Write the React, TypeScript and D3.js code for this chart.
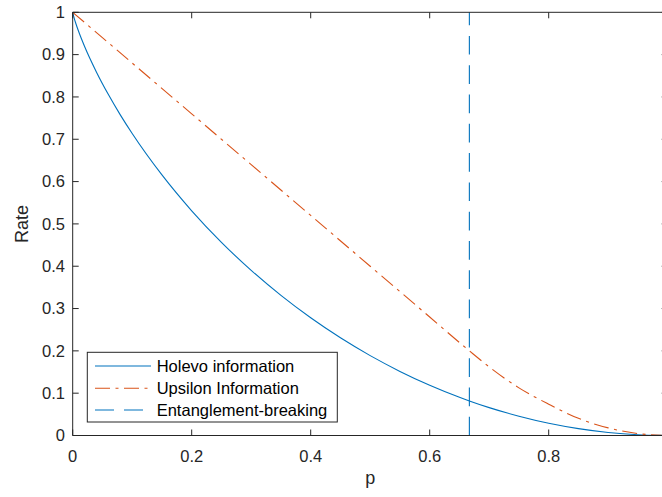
import React from "react";
import * as d3 from "d3";

const holevoP = [0, 0.0025, 0.005, 0.01, 0.02, 0.04, 0.06, 0.08, 0.1, 0.15, 0.2, 0.25, 0.3, 0.35, 0.4, 0.45, 0.5, 0.55, 0.6, 0.65, 0.6667, 0.7, 0.75, 0.8, 0.85, 0.9, 0.95, 1.0];
const holevoV = [1, 0.986, 0.9748, 0.9546, 0.9192, 0.8586, 0.8056, 0.7577, 0.7136, 0.6157, 0.531, 0.4564, 0.3902, 0.331, 0.2781, 0.2308, 0.1887, 0.1515, 0.1187, 0.0903, 0.0817, 0.0659, 0.0456, 0.029, 0.0163, 0.0072, 0.0018, 0];

const upsilonP = [0, 0.1, 0.2, 0.3, 0.4, 0.5, 0.6, 0.6667, 0.7, 0.75, 0.8, 0.85, 0.9, 0.95, 0.99];
const upsilonV = [1, 0.88, 0.76, 0.64, 0.52, 0.4, 0.28, 0.2, 0.162, 0.1125, 0.074, 0.0405, 0.018, 0.0045, 0.0002];

const breakingP = 2 / 3;

const xTicks = [0, 0.2, 0.4, 0.6, 0.8];
const yTicks = [0, 0.1, 0.2, 0.3, 0.4, 0.5, 0.6, 0.7, 0.8, 0.9, 1];
const legendLabels = ["Holevo information", "Upsilon Information", "Entanglement-breaking"];

const W = 662;
const H = 497;
const BLUE = "#0072BD";
const ORANGE = "#D95319";
const AX = "#262626";
const FONT = "'Liberation Sans', Arial, Helvetica, sans-serif";

export default function App() {
  const x = d3.scaleLinear().domain([0, 1]).range([72.7, 667.7]);
  const y = d3.scaleLinear().domain([0, 1]).range([435.5, 12.3]);
  const [x0, x1] = x.range();
  const [y0, y1] = y.range();

  const line = d3
    .line<[number, number]>()
    .x((d) => x(d[0]))
    .y((d) => y(d[1]))
    .curve(d3.curveMonotoneX);

  const holevo = line(holevoP.map((p, i) => [p, holevoV[i]] as [number, number]));
  const upsilon = line(upsilonP.map((p, i) => [p, upsilonV[i]] as [number, number]));

  const tickLen = 6;
  const legX = 87.3;
  const legY = 352.3;
  const legW = 250;
  const legH = 69.7;
  const rows = [366, 388.3, 410];
  const styles = [
    { stroke: BLUE, dash: undefined as string | undefined },
    { stroke: ORANGE, dash: "15 5.5 3 5.5" },
    { stroke: BLUE, dash: "19 10" },
  ];

  return (
    <svg
      width={W}
      height={H}
      style={{ position: "absolute", left: 0, top: 0, background: "#fff", overflow: "hidden" }}
      fontFamily={FONT}
    >
      <rect x={0} y={0} width={W} height={H} fill="#fff" />
      {/* curves */}
      <path d={holevo ?? ""} fill="none" stroke={BLUE} strokeWidth={1.1} />
      <path d={upsilon ?? ""} fill="none" stroke={ORANGE} strokeWidth={1.1} strokeDasharray="15 5.5 3 5.5" />
      <line
        x1={x(breakingP)}
        x2={x(breakingP)}
        y1={y(0)}
        y2={y(1)}
        stroke={BLUE}
        strokeWidth={1.1}
        strokeDasharray="18.7 10.6"
      />
      {/* axes box */}
      <line x1={x0} x2={x0} y1={y0} y2={y1} stroke={AX} strokeWidth={1} />
      <line x1={x0} x2={x1} y1={y0} y2={y0} stroke={AX} strokeWidth={1} />
      <line x1={x0} x2={x1} y1={y1} y2={y1} stroke={AX} strokeWidth={1} />
      <line x1={x1} x2={x1} y1={y0} y2={y1} stroke={AX} strokeWidth={1} />
      {/* x ticks */}
      {xTicks.map((t) => (
        <g key={"xt" + t}>
          <line x1={x(t)} x2={x(t)} y1={y0} y2={y0 - tickLen} stroke={AX} strokeWidth={1} />
          <line x1={x(t)} x2={x(t)} y1={y1} y2={y1 + tickLen} stroke={AX} strokeWidth={1} />
          <text x={x(t)} y={461.5} textAnchor="middle" fontSize={16.5} fill={AX}>
            {String(t)}
          </text>
        </g>
      ))}
      {/* y ticks */}
      {yTicks.map((t) => (
        <g key={"yt" + t}>
          <line x1={x0} x2={x0 + tickLen} y1={y(t)} y2={y(t)} stroke={AX} strokeWidth={1} />
          <line x1={x1} x2={x1 - tickLen} y1={y(t)} y2={y(t)} stroke={AX} strokeWidth={1} />
          <text x={65} y={y(t)} dy="0.35em" textAnchor="end" fontSize={16.5} fill={AX}>
            {String(t)}
          </text>
        </g>
      ))}
      {/* axis labels */}
      <text x={(x0 + x1) / 2} y={484} textAnchor="middle" fontSize={18} fill={AX}>
        p
      </text>
      <text
        transform={`translate(28, ${(y0 + y1) / 2}) rotate(-90)`}
        textAnchor="middle"
        fontSize={18}
        fill={AX}
      >
        Rate
      </text>
      {/* legend */}
      <rect x={legX} y={legY} width={legW} height={legH} fill="#fff" stroke={AX} strokeWidth={1} />
      {legendLabels.map((lab, i) => (
        <g key={lab}>
          <line
            x1={95}
            x2={151}
            y1={rows[i]}
            y2={rows[i]}
            stroke={styles[i].stroke}
            strokeWidth={1.1}
            strokeDasharray={styles[i].dash}
          />
          <text x={156.7} y={rows[i]} dy="0.35em" fontSize={16.5} fill="#000">
            {lab}
          </text>
        </g>
      ))}
    </svg>
  );
}
